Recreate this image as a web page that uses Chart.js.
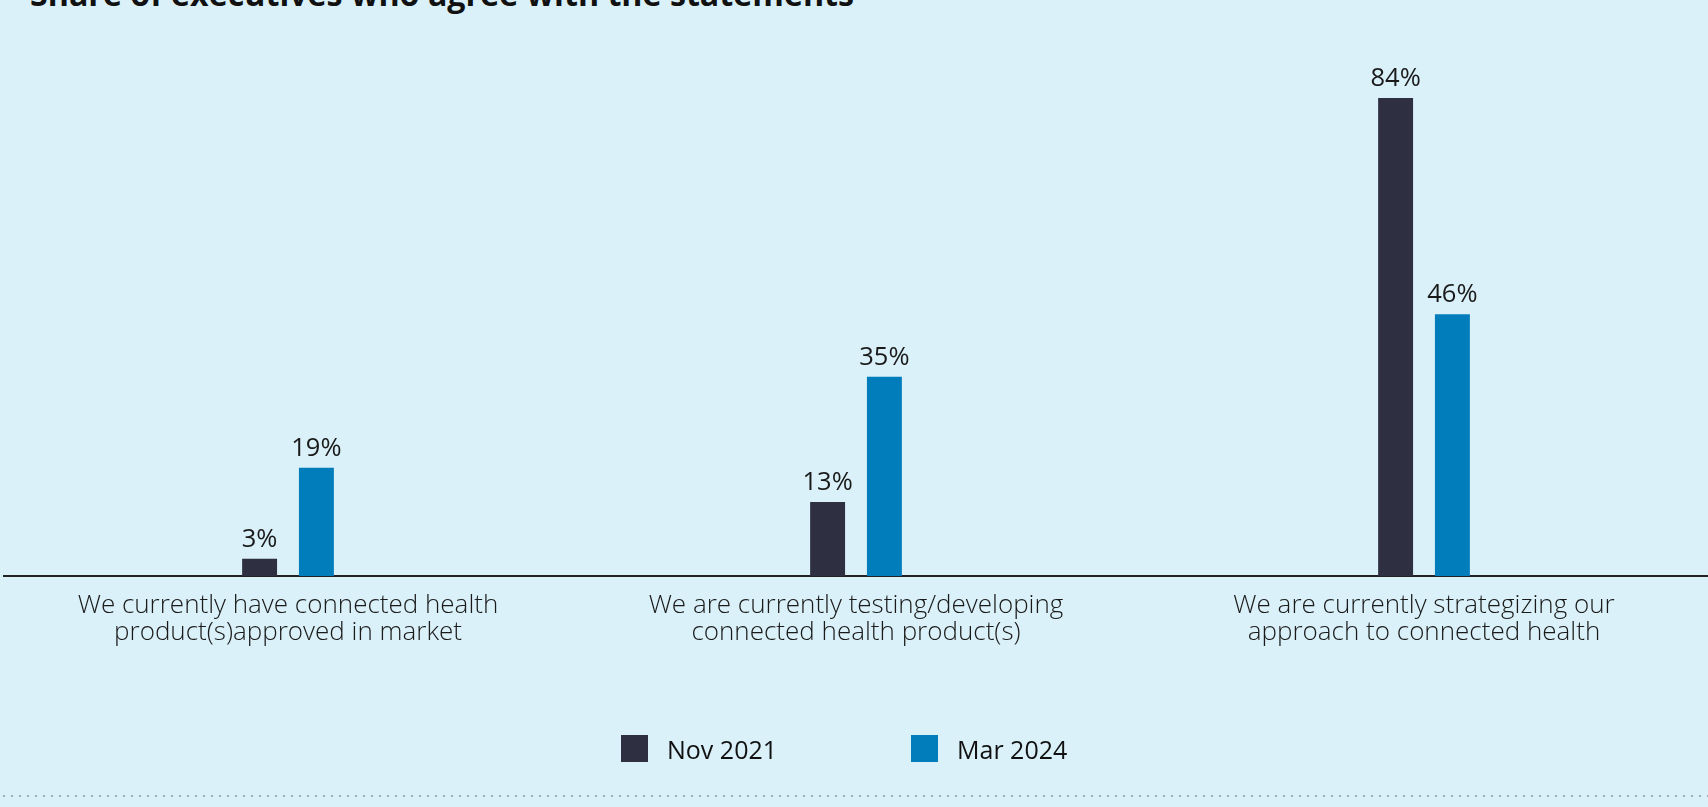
<!DOCTYPE html>
<html>
<head>
<meta charset="utf-8">
<script src="https://cdn.jsdelivr.net/npm/chart.js@4"></script>
<style>
  html, body { margin: 0; padding: 0; background: #daf1f9; }
  body { width: 1708px; height: 807px; position: relative; overflow: hidden; font-family: "Open Sans", "Noto Sans", sans-serif; }
  #title { position: absolute; left: 30px; top: -22px; font: 700 32.2px/32px "Open Sans", "Noto Sans", sans-serif; color: #111; white-space: nowrap; margin: 0; }
  #wrap { position: absolute; left: 0; top: 0; width: 1708px; height: 807px; }
  #legend { position: absolute; top: 735px; left: 0; height: 27px; }
  .li { position: absolute; top: 0; display: flex; align-items: center; height: 27px; white-space: nowrap; }
  .sw { width: 27px; height: 27px; margin-right: 19px; }
  .lt { font: 400 25px "Open Sans", "Noto Sans", sans-serif; color: #111; }
  #dots { position: absolute; left: 0; top: 793px; width: 1708px; height: 6px;
          background-image: radial-gradient(circle, #9fb0b8 1.1px, transparent 1.6px);
          background-size: 8px 6px; background-position: 0 0; }
</style>
</head>
<body>
<h1 id="title">Share of executives who agree with the statements</h1>
<div id="wrap"><canvas id="c"></canvas></div>
<div id="legend"></div>
<div id="dots"></div>
<script>
const categories = [
  ["We currently have connected health", "product(s)approved in market"],
  ["We are currently testing/developing", "connected health product(s)"],
  ["We are currently strategizing our", "approach to connected health"]
];
const seriesNames = ["Nov 2021", "Mar 2024"];
const nov2021 = [3, 13, 84];
const mar2024 = [19, 35, 46];
const seriesColors = ["#2e2f40", "#007dba"];
const legendLefts = [621, 911];

const valueLabels = {
  id: 'valueLabels',
  afterDatasetsDraw(chart) {
    const ctx = chart.ctx;
    ctx.save();
    ctx.font = '400 25.5px "Open Sans", "Noto Sans", sans-serif';
    ctx.fillStyle = '#1a1a1a';
    ctx.textAlign = 'center';
    ctx.textBaseline = 'alphabetic';
    chart.data.datasets.forEach((ds, di) => {
      const meta = chart.getDatasetMeta(di);
      meta.data.forEach((bar, i) => {
        ctx.fillText(ds.data[i] + '%', bar.x, bar.y - 12);
      });
    });
    ctx.restore();
  }
};

const chart = new Chart(document.getElementById('c'), {
  type: 'bar',
  data: {
    labels: categories,
    datasets: [
      { label: seriesNames[0], data: nov2021, backgroundColor: seriesColors[0] },
      { label: seriesNames[1], data: mar2024, backgroundColor: seriesColors[1] }
    ]
  },
  options: {
    responsive: true,
    maintainAspectRatio: false,
    animation: false,
    devicePixelRatio: 1,
    layout: { padding: { left: 4, right: 0, top: 7, bottom: 145 } },
    datasets: { bar: { categoryPercentage: 0.2, barPercentage: 0.615 } },
    plugins: { legend: { display: false }, tooltip: { enabled: false }, title: { display: false } },
    scales: {
      x: {
        grid: { display: false, drawTicks: false },
        border: { display: true, color: '#222', width: 2 },
        ticks: { color: '#1a1a1a', padding: 16, maxRotation: 0, autoSkip: false,
                 font: { family: '"Open Sans", "Noto Sans", sans-serif', size: 26, weight: 300, lineHeight: 1.04 } }
      },
      y: {
        display: false,
        min: 0, max: 100
      }
    }
  },
  plugins: [valueLabels]
});

const lg = document.getElementById('legend');
seriesNames.forEach((n, i) => {
  const d = document.createElement('div');
  d.className = 'li';
  d.style.left = legendLefts[i] + 'px';
  d.innerHTML = '<span class="sw" style="background:' + seriesColors[i] + '"></span><span class="lt">' + n + '</span>';
  lg.appendChild(d);
});
</script>
</body>
</html>
